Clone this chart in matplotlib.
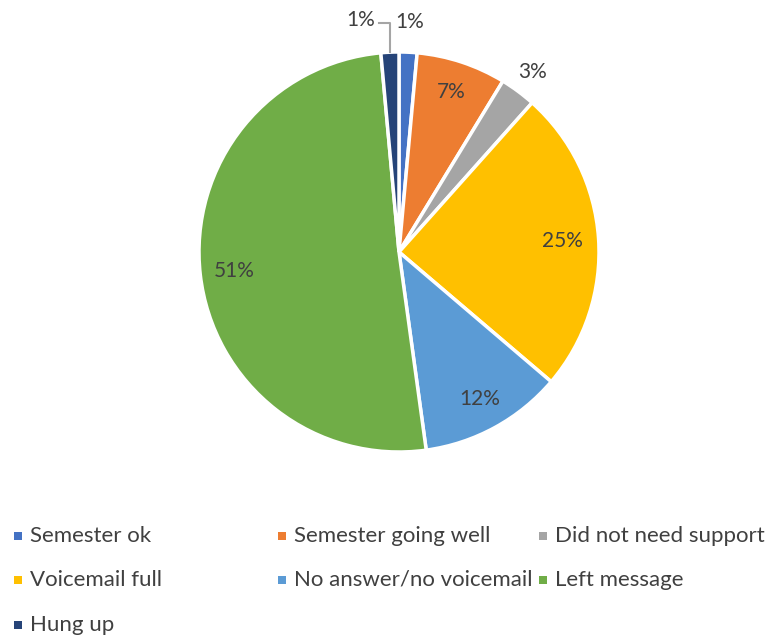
import numpy as np
import matplotlib.pyplot as plt
from matplotlib.patches import Rectangle

# call outcomes (counts), clockwise from 12 o'clock
labels = ['Semester ok', 'Semester going well', 'Did not need support',
          'Voicemail full', 'No answer/no voicemail', 'Left message', 'Hung up']
counts = [1, 5, 2, 17, 8, 35, 1]
colors = ['#4472C4', '#ED7D31', '#A5A5A5', '#FFC000', '#5B9BD5', '#70AD47', '#264478']
# label distance from centre (fraction of radius)
label_r = [1.15, 0.84, 1.12, 0.82, 0.84, 0.83, None]

plt.rcParams['font.family'] = ['Lato', 'DejaVu Sans']
txt_color = '#404040'

W, H = 770, 638
fig = plt.figure(figsize=(W / 100, H / 100), dpi=100)
cx, cy, R = 399, 252, 200
ax = fig.add_axes([(cx - R) / W, (H - cy - R) / H, 2 * R / W, 2 * R / H])

wedges, _ = ax.pie(counts, colors=colors, startangle=90, counterclock=False,
                   wedgeprops=dict(edgecolor='white', linewidth=2.5))
ax.set_xlim(-1, 1)
ax.set_ylim(-1, 1)
ax.set_aspect('equal')

total = sum(counts)
for w, c, r in zip(wedges, counts, label_r):
    pct = '{:.0f}%'.format(100 * c / total)
    ang = np.deg2rad((w.theta1 + w.theta2) / 2)
    if r is None:
        # leader line for the tiny last slice
        x0, y0 = np.cos(ang), np.sin(ang)
        ax.plot([x0, x0, x0 - 0.055], [y0, 1.145, 1.145], color='#A5A5A5',
                lw=1.5, clip_on=False)
        ax.text(x0 - 0.075, 1.16, pct, ha='right', va='center', fontsize=15,
                color=txt_color, clip_on=False)
        continue
    ax.text(r * np.cos(ang), r * np.sin(ang), pct, ha='center', va='center',
            fontsize=15, color=txt_color)

# legend, three equal-width columns like Excel
col_x = [18, 282, 543]
row_y = [536, 580, 625]
for i, (lab, col) in enumerate(zip(labels, colors)):
    x = col_x[i % 3]
    y = row_y[i // 3]
    fig.patches.append(Rectangle(((x - 4) / W, (H - y - 4) / H), 8 / W, 8 / H,
                                 transform=fig.transFigure, facecolor=col,
                                 edgecolor='none'))
    fig.text((x + 12) / W, (H - y) / H, lab, ha='left', va='center',
             fontsize=16, color=txt_color)

fig.savefig('out.png', dpi=100)
